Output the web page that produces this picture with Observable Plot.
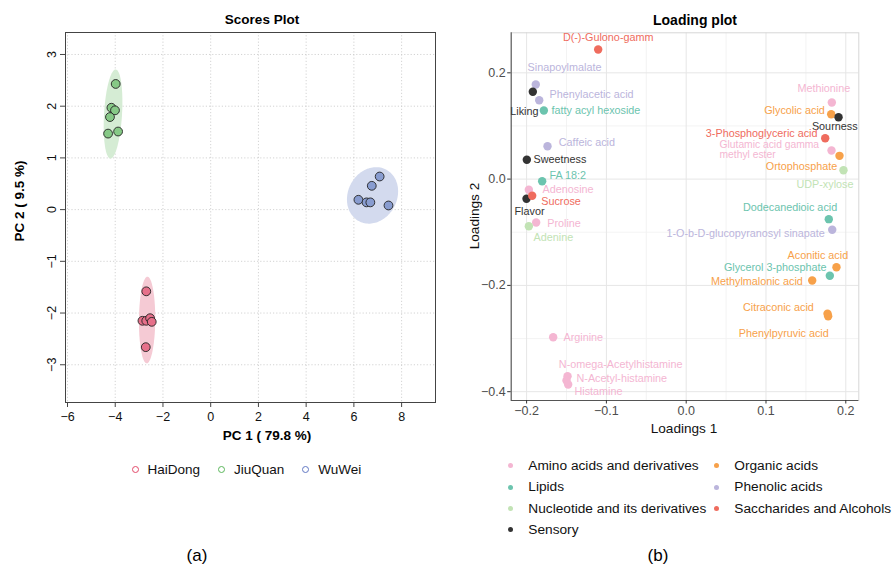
<!DOCTYPE html>
<html><head><meta charset="utf-8">
<script src="https://cdn.jsdelivr.net/npm/d3@7"></script>
<script src="https://cdn.jsdelivr.net/npm/@observablehq/plot@0.6"></script>
<style>
body{margin:0;background:#fff;font-family:"Liberation Sans",Arial,sans-serif;}
#root{position:relative;width:895px;height:565px;overflow:hidden;background:#fff;}
.abs{position:absolute;white-space:nowrap;line-height:1;}
svg{position:absolute;}
</style></head><body><div id="root"></div>
<script>
// ---------- Scores plot data ----------
const groupNames = ["HaiDong", "JiuQuan", "WuWei"];
const scoreGroup = ["HaiDong","HaiDong","HaiDong","HaiDong","HaiDong","HaiDong",
                    "JiuQuan","JiuQuan","JiuQuan","JiuQuan","JiuQuan","JiuQuan",
                    "WuWei","WuWei","WuWei","WuWei","WuWei","WuWei"];
const scorePC1 = [-2.70,-2.86,-2.70,-2.54,-2.47,-2.72,
                  -3.98,-4.16,-4.01,-4.22,-4.30,-3.88,
                   7.08, 6.75, 6.19, 6.53, 6.69, 7.45];
const scorePC2 = [-1.58,-2.15,-2.15,-2.10,-2.17,-2.66,
                   2.43, 1.97, 1.92, 1.79, 1.47, 1.51,
                   0.64, 0.46, 0.19, 0.14, 0.14, 0.08];
const scoreXTicks = [-6,-4,-2,0,2,4,6,8];
const scoreYTicks = [-3,-2,-1,0,1,2,3];

// ---------- Loading plot data ----------
const classNames = ["Amino acids and derivatives","Lipids","Nucleotide and its derivatives","Sensory",
                    "Organic acids","Phenolic acids","Saccharides and Alcohols"];
const loadName = ["D(-)-Gulono-gamm","Sinapoylmalate","Liking","Phenylacetic acid","fatty acyl hexoside",
  "Caffeic acid","Sweetness","FA 18:2","Adenosine","Sucrose","Flavor","Proline","Adenine","Arginine",
  "N-omega-Acetylhistamine","N-Acetyl-histamine","Histamine","Methionine","Glycolic acid","Sourness",
  "3-Phosphoglyceric acid","Glutamic acid gamma\nmethyl ester","Ortophosphate","UDP-xylose",
  "Dodecanedioic acid","1-O-b-D-glucopyranosyl sinapate","Aconitic acid","Glycerol 3-phosphate",
  "Methylmalonic acid","Citraconic acid","Phenylpyruvic acid"];
const loadClass = ["Saccharides and Alcohols","Phenolic acids","Sensory","Phenolic acids","Lipids",
  "Phenolic acids","Sensory","Lipids","Amino acids and derivatives","Saccharides and Alcohols","Sensory",
  "Amino acids and derivatives","Nucleotide and its derivatives","Amino acids and derivatives",
  "Amino acids and derivatives","Amino acids and derivatives","Amino acids and derivatives",
  "Amino acids and derivatives","Organic acids","Sensory","Saccharides and Alcohols",
  "Amino acids and derivatives","Organic acids","Nucleotide and its derivatives","Lipids","Phenolic acids",
  "Organic acids","Lipids","Organic acids","Organic acids","Organic acids"];
const loading1 = [-0.1103,-0.1885,-0.1922,-0.1842,-0.1784,-0.1738,-0.1997,-0.1805,-0.1972,-0.1930,-0.2001,
  -0.1880,-0.1972,-0.1667,-0.1487,-0.1500,-0.1479,0.1825,0.1817,0.1909,0.1742,0.1821,0.1921,0.1971,
  0.1787,0.1830,0.1883,0.1800,0.1579,0.1771,0.1779];
const loading2 = [0.2438,0.1780,0.1644,0.1484,0.1291,0.0619,0.0363,-0.0040,-0.0201,-0.0314,-0.0371,
  -0.0817,-0.0886,-0.2975,-0.3708,-0.3789,-0.3865,0.1441,0.1221,0.1165,0.0770,0.0538,0.0438,0.0167,
  -0.0754,-0.0954,-0.1658,-0.1819,-0.1908,-0.2534,-0.2580];
const loadXTicks = [-0.2,-0.1,0,0.1,0.2];
const loadYTicks = [-0.4,-0.2,0,0.2];
const loadXMinor = [-0.15,-0.05,0.05,0.15];
const loadYMinor = [-0.3,-0.1,0.1];

// ---------- styles (separate from data) ----------
const groupFill = ["#E6708A","#86C986","#889CD0"];
const groupStroke = ["#E34A6A","#5BB75B","#6278C4"];
const groupEllipse = ["#F5CAD4","#D5ECD4","#D3DAEE"];
const classColor = ["#F4B6D2","#6CC4AE","#C2E3B5","#333333","#F7A14A","#BBB5DC","#EF6C5E"];
const drawOrder = ["Amino acids and derivatives","Lipids","Nucleotide and its derivatives","Organic acids",
                   "Phenolic acids","Sensory","Saccharides and Alcohols"];
// label placement (repel result, px offsets from point): [dx, dy, anchor, fontSize]
const labelLayout = [[10,-12.3,"middle"],[28.7,-17.3,"middle"],[5.7,19.3,"end"],[10.3,-5.7,"start"],[7.7,0,"start"],
  [11.3,-4,"start"],[6.7,0,"start"],[7.3,-5.7,"start"],[13.7,0.2,"start"],[9,6.2,"start"],[3,12.7,"middle"],
  [11,1,"start"],[4.7,11,"start"],[10.3,0,"start"],[-8.7,-11.7,"start"],[10,-2.3,"start"],[6.3,6.7,"start"],
  [-8,-14.3,"middle"],[-6.4,-3.7,"end"],[-3.8,9.6,"middle"],[-7.7,-4.4,"end"],[-112,-0.6,"start",10.3],[-2.3,10.4,"end"],
  [10,14.6,"end"],[8.4,-12,"end"],[-7.4,4,"end"],[11.7,-12,"end"],[-3.3,-8,"end"],[-9.4,0.7,"end"],
  [-13.7,-6,"end"],[0.6,17.6,"end"]];

const root = document.getElementById("root");
const FONT = "'Liberation Sans', Arial, Helvetica, sans-serif";

function addText(txt, x, y, o = {}) {
  const d = document.createElement("div");
  d.className = "abs";
  d.textContent = txt;
  d.style.left = x + "px"; d.style.top = y + "px";
  d.style.fontSize = (o.size || 13) + "px";
  d.style.fontWeight = o.weight || "normal";
  d.style.color = o.color || "#000";
  d.style.transform = "translate(-50%,-50%)" + (o.rotate ? ` rotate(${o.rotate}deg)` : "");
  root.appendChild(d);
  return d;
}

// ---------- Scores plot ----------
const scores = scorePC1.map((x, i) => ({x, y: scorePC2[i], g: scoreGroup[i]}));

function confEllipse(pts) {
  const n = pts.length;
  const mx = d3.mean(pts, d => d.x), my = d3.mean(pts, d => d.y);
  let sxx = 0, syy = 0, sxy = 0;
  for (const p of pts) { sxx += (p.x-mx)**2; syy += (p.y-my)**2; sxy += (p.x-mx)*(p.y-my); }
  sxx /= n-1; syy /= n-1; sxy /= n-1;
  const a = Math.sqrt(sxx), b = sxy / a, c = Math.sqrt(Math.max(syy - b*b, 0));
  const k = Math.sqrt(5.991); // 95% chi-square, 2 df
  return d3.range(0, 121).map(i => {
    const t = 2*Math.PI*i/120, u = Math.cos(t), v = Math.sin(t);
    return {x: mx + k*a*u, y: my + k*(b*u + c*v)};
  });
}

const ellipseMarks = groupNames.map((g, gi) =>
  Plot.line(confEllipse(scores.filter(d => d.g === g)), {x: "x", y: "y", fill: groupEllipse[gi], stroke: "none", curve: "linear"}));

const left = Plot.plot({
  width: 445, height: 450,
  marginLeft: 65, marginRight: 10, marginTop: 32, marginBottom: 48,
  x: {domain: [-6.084, 9.42]},
  y: {domain: [-3.73, 3.425]},
  color: {domain: groupNames, range: groupFill},
  style: {fontFamily: FONT, fontSize: "12px", color: "#111", background: "transparent"},
  marks: [
    Plot.gridX({ticks: scoreXTicks, stroke: "#c8c8c8", strokeOpacity: 1, strokeWidth: 0.8, strokeDasharray: "1.2,2"}),
    Plot.gridY({ticks: scoreYTicks, stroke: "#c8c8c8", strokeOpacity: 1, strokeWidth: 0.8, strokeDasharray: "1.2,2"}),
    ...ellipseMarks,
    Plot.dot(scores, {x: "x", y: "y", fill: "g", r: 4.4, stroke: "#222", strokeWidth: 0.9}),
    Plot.frame({stroke: "#444", strokeWidth: 1}),
    Plot.axisX({ticks: scoreXTicks, tickSize: 5, tickPadding: 5, label: null, fontSize: 12.5, stroke: "#444"}),
    Plot.axisY({ticks: scoreYTicks, tickSize: 5, tickPadding: 5, tickRotate: -90, label: null, fontSize: 12.5, stroke: "#444"})
  ]
});
left.style.left = "0px"; left.style.top = "0px";
root.appendChild(left);

addText("Scores Plot", 262, 20, {size: 13.5, weight: "bold"});
addText("PC 1 ( 79.8 %)", 267, 436, {size: 13.5, weight: "bold"});
addText("PC 2 ( 9.5 %)", 20, 201, {size: 13.5, weight: "bold", rotate: -90});

// left legend
const lg = document.createElement("div");
lg.className = "abs";
lg.style.left = "131.5px"; lg.style.top = "463px";
lg.style.display = "flex"; lg.style.alignItems = "center"; lg.style.gap = "18px";
groupNames.forEach((g, i) => {
  const it = document.createElement("div");
  it.style.display = "flex"; it.style.alignItems = "center"; it.style.gap = "9px";
  const c = document.createElement("span");
  c.style.display = "inline-block"; c.style.width = "5px"; c.style.height = "5px";
  c.style.border = `1.3px solid ${groupStroke[i]}`; c.style.borderRadius = "50%";
  const t = document.createElement("span");
  t.textContent = g; t.style.fontSize = "13.5px"; t.style.color = "#111";
  it.appendChild(c); it.appendChild(t); lg.appendChild(it);
});
root.appendChild(lg);

addText("(a)", 197, 555, {size: 17});

// ---------- Loading plot ----------
const loads = loading1.map((x, i) => ({name: loadName[i], cls: loadClass[i], x, y: loading2[i], i}));
const ordered = drawOrder.flatMap(c => loads.filter(d => d.cls === c));
const colorOf = c => classColor[classNames.indexOf(c)];

const labelMarks = loads.map(d => {
  const [dx, dy, anchor, fs] = labelLayout[d.i];
  return Plot.text([d], {x: "x", y: "y", text: "name", dx, dy, textAnchor: anchor,
    fill: colorOf(d.cls), fontSize: fs || 10.8, lineHeight: 1});
});

const XMIN = -0.2193, XMAX = 0.2163, YMIN = -0.4166, YMAX = 0.2753;
const right = Plot.plot({
  width: 450, height: 440,
  marginLeft: 65.7, marginRight: 36.7, marginTop: 32.3, marginBottom: 40,
  x: {domain: [XMIN, XMAX]},
  y: {domain: [YMIN, YMAX]},
  color: {domain: classNames, range: classColor},
  style: {fontFamily: FONT, fontSize: "12px", color: "#4d4d4d", background: "transparent"},
  marks: [
    Plot.gridX({ticks: loadXMinor, stroke: "#f0f0f0", strokeOpacity: 1, strokeWidth: 0.8}),
    Plot.gridY({ticks: loadYMinor, stroke: "#f0f0f0", strokeOpacity: 1, strokeWidth: 0.8}),
    Plot.gridX({ticks: loadXTicks, stroke: "#e6e6e6", strokeOpacity: 1, strokeWidth: 1}),
    Plot.gridY({ticks: loadYTicks, stroke: "#e6e6e6", strokeOpacity: 1, strokeWidth: 1}),
    Plot.frame({stroke: "#d6d6d6", strokeWidth: 1}),
    Plot.ruleX([XMIN], {stroke: "#555", strokeWidth: 1.1}),
    Plot.ruleY([YMIN], {stroke: "#555", strokeWidth: 1.1}),
    Plot.dot(ordered, {x: "x", y: "y", fill: "cls", r: 4.2, stroke: "none"}),
    ...labelMarks,
    Plot.axisX({ticks: loadXTicks, tickSize: 3.5, tickPadding: 2, label: null, fontSize: 12.5, stroke: "#333",
      tickFormat: d3.format(".1f")}),
    Plot.axisY({ticks: loadYTicks, tickSize: 3.5, tickPadding: 2, label: null, fontSize: 12.5, stroke: "#333",
      tickFormat: d3.format(".1f")})
  ]
});
right.style.left = "445px"; right.style.top = "0px";
root.appendChild(right);

addText("Loading plot", 695, 20, {size: 14, weight: "bold"});
addText("Loadings 1", 684, 429, {size: 13.6, color: "#111"});
addText("Loadings 2", 475, 216, {size: 13.6, color: "#111", rotate: -90});

// right legend (2 columns)
classNames.forEach((c, i) => {
  const col = i < 4 ? 0 : 1, row = i < 4 ? i : i - 4;
  const dotX = col === 0 ? 510.7 : 716.7;
  const y = 465.7 + row * 21.4;
  const dot = document.createElement("div");
  dot.className = "abs";
  dot.style.left = (dotX - 2.6) + "px"; dot.style.top = (y - 2.6) + "px";
  dot.style.width = "5.2px"; dot.style.height = "5.2px"; dot.style.borderRadius = "50%";
  dot.style.background = classColor[i];
  root.appendChild(dot);
  const t = document.createElement("div");
  t.className = "abs";
  t.textContent = c;
  t.style.left = (dotX + 17.6) + "px"; t.style.top = y + "px";
  t.style.transform = "translateY(-50%)";
  t.style.fontSize = "13.7px"; t.style.color = "#111";
  root.appendChild(t);
});

addText("(b)", 658, 555, {size: 17});
</script></body></html>
